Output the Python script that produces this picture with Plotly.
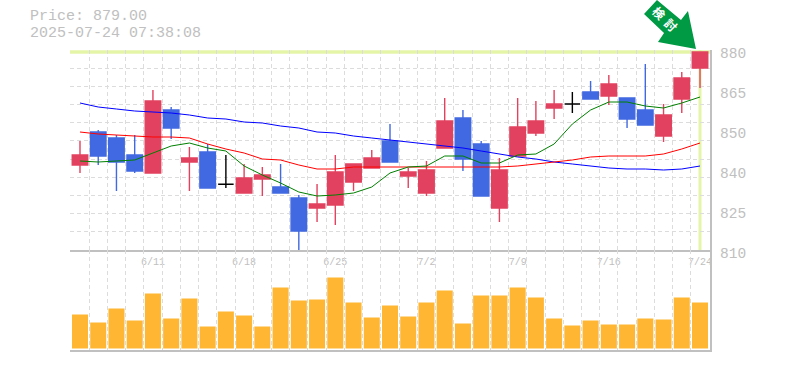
import plotly.graph_objects as go

W, H = 785, 370
MONO = "Liberation Mono, monospace"
GREY = "#c0c0c0"
GRID = "#dcdcdc"
RED = "#e2425f"
BLUE = "#4169e1"
BLACK = "#000000"
ORANGE = "#ffb733"
CROSS = "#e4f5a8"

title_price = "Price: 879.00"
title_time = "2025-07-24 07:38:08"

x_tick_vals = [4, 9, 14, 19, 24, 29, 34]
x_tick_text = ["6/11", "6/18", "6/25", "7/2", "7/9", "7/16", "7/24"]
y_tick_vals = [880, 866, 852, 838, 824, 810]
y_tick_text = ["880", "865", "850", "840", "825", "810"]

opens = [839.45, 851.0, 848.9, 842.95, 836.65, 858.7, 840.5, 844.0, 832.7, 829.65, 834.55, 831.75, 827.9, 824.4, 825.45, 833.5, 838.4, 847.85, 835.6, 829.65, 845.4, 855.9, 846.8, 824.4, 842.6, 850.65, 859.4, 860.8, 865.0, 863.6, 862.9, 858.7, 849.6, 862.55, 873.4]
highs = [847.85, 851.7, 849.95, 849.95, 865.7, 859.75, 845.75, 846.8, 842.95, 839.8, 838.75, 839.8, 828.95, 832.8, 842.95, 839.8, 844.7, 853.8, 838.4, 840.85, 862.9, 858.7, 847.85, 841.9, 862.9, 861.85, 865.7, 865.0, 868.85, 870.95, 862.9, 874.8, 860.8, 872.0, 879.0]
lows = [836.65, 839.45, 830.35, 836.65, 836.65, 848.55, 830.35, 831.4, 831.4, 829.65, 828.6, 829.65, 809.35, 819.5, 818.45, 830.35, 838.4, 840.5, 831.4, 828.6, 845.4, 837.35, 828.6, 819.5, 842.6, 849.6, 855.55, 857.65, 862.55, 860.45, 852.4, 853.45, 847.5, 857.65, 866.4]
closes = [842.95, 842.6, 840.5, 837.35, 861.85, 852.4, 841.9, 831.4, 832.7, 834.9, 835.95, 829.65, 816.35, 825.8, 837.0, 839.8, 841.9, 840.5, 837.0, 837.7, 854.85, 841.55, 828.6, 837.7, 852.75, 854.85, 860.8, 860.8, 862.55, 867.8, 855.55, 853.45, 856.95, 869.9, 879.0]

ma_short = [840.85, 840.5, 840.85, 841.2, 843.65, 846.1, 847.15, 845.4, 844.35, 839.1, 835.95, 833.15, 830.0, 828.6, 828.95, 829.65, 831.75, 836.65, 838.75, 839.1, 842.6, 842.6, 840.15, 840.15, 842.95, 843.3, 846.8, 853.8, 858.7, 861.5, 861.5, 860.1, 859.4, 861.15, 863.25]
ma_mid = [851.0, 850.3, 849.95, 849.6, 849.25, 849.25, 848.9, 846.8, 845.05, 843.65, 841.55, 841.2, 839.45, 838.05, 838.05, 838.75, 838.75, 838.75, 838.75, 838.75, 838.75, 838.75, 838.75, 838.75, 839.1, 839.8, 840.5, 841.2, 842.25, 842.6, 842.6, 842.6, 843.3, 845.05, 847.15]
ma_long = [861.15, 859.75, 859.05, 858.35, 858.0, 857.65, 856.95, 855.9, 855.55, 854.5, 854.15, 853.1, 852.4, 851.0, 850.65, 849.6, 848.9, 848.2, 847.5, 846.8, 846.1, 845.4, 844.35, 843.3, 842.25, 841.55, 840.5, 839.8, 839.1, 838.4, 838.05, 838.05, 837.7, 838.05, 839.1]

volumes = [34, 26, 40, 28, 55, 30, 50, 22, 37, 33, 22, 61, 48, 49, 71, 46, 31, 43, 32, 46, 58, 25, 53, 53, 61, 51, 30, 23, 28, 24, 24, 30, 29, 51, 46]

idx = list(range(len(closes)))
flat = [i for i in idx if opens[i] == closes[i]]
solid = [i for i in idx if opens[i] != closes[i]]


def pick(seq, which):
    return [seq[i] for i in which]


def px(x):
    return x / W


def py(y):
    return 1 - y / H


def cdl(which, up, down):
    return go.Candlestick(
        x=which, open=pick(opens, which), high=pick(highs, which),
        low=pick(lows, which), close=pick(closes, which), whiskerwidth=0,
        increasing=dict(line=dict(color=up, width=1.4), fillcolor=up),
        decreasing=dict(line=dict(color=down, width=1.4), fillcolor=down),
        hoverinfo="skip", showlegend=False, xaxis="x", yaxis="y",
    )


fig = go.Figure()
fig.add_trace(go.Bar(x=idx, y=volumes, width=0.88, marker=dict(color=ORANGE, line=dict(width=0)),
                     xaxis="x2", yaxis="y2", showlegend=False, hoverinfo="skip"))
fig.add_trace(go.Scatter(x=idx, y=ma_long, mode="lines", line=dict(color="#0000ff", width=1), showlegend=False, hoverinfo="skip"))
fig.add_trace(go.Scatter(x=idx, y=ma_mid, mode="lines", line=dict(color="#ff0000", width=1), showlegend=False, hoverinfo="skip"))
fig.add_trace(go.Scatter(x=idx, y=ma_short, mode="lines", line=dict(color="#008000", width=1), showlegend=False, hoverinfo="skip"))
fig.add_trace(cdl(solid, RED, BLUE))
fig.add_trace(cdl(flat, BLACK, BLACK))
fig.add_trace(go.Scatter(x=[idx[-1]], y=[closes[-1]], mode="lines", xaxis="x3", yaxis="y3", showlegend=False, hoverinfo="skip"))

grid_x = [i - 0.5 for i in idx] + [idx[-1] + 0.5]
minor = dict(tickmode="array", tickvals=grid_x, showgrid=True, gridcolor=GRID, griddash="4px,3px", gridwidth=1.2, ticks="")
x_range = [-0.548, 34.548]
dom_x = [px(70), px(710)]

fig.update_layout(
    width=W, height=H, margin=dict(l=0, r=0, t=0, b=0, autoexpand=False), autosize=False,
    paper_bgcolor="white", plot_bgcolor="rgba(0,0,0,0)", boxgap=0.15, boxgroupgap=0, showlegend=False,
    font=dict(family=MONO, color=GREY),
    xaxis=dict(domain=dom_x, range=x_range, anchor="y", tickmode="array", tickvals=x_tick_vals,
               ticktext=x_tick_text, showgrid=False, minor=minor, showline=True, linecolor=GREY,
               linewidth=2, ticks="", ticklabelstandoff=1, tickfont=dict(family=MONO, size=10, color=GREY),
               rangeslider=dict(visible=False), zeroline=False, tickangle=0),
    xaxis2=dict(domain=dom_x, range=x_range, anchor="y2", showticklabels=False, tickmode="array", tickvals=[],
                showgrid=False, minor=minor, showline=True, linecolor=GREY, linewidth=2, ticks="", zeroline=False),
    xaxis3=dict(domain=dom_x, range=x_range, anchor="y3", visible=False),
    yaxis=dict(domain=[py(250), py(50)], range=[809.7, 879.7], anchor="x", side="right", showline=True,
               linecolor=GREY, linewidth=2, showticklabels=False, ticks="", tick0=809.7, dtick=70 / 11,
               showgrid=True, gridcolor=GRID, griddash="4px,3px", gridwidth=1.2, zeroline=False),
    yaxis2=dict(domain=[py(350), py(250)], range=[-1.5, 98.5], anchor="x2", side="right", showline=True,
                linecolor=GREY, linewidth=2, showticklabels=False, ticks="", showgrid=False, zeroline=False),
    yaxis3=dict(domain=[py(263), py(43)], range=[806.5, 883.5], anchor="x3", side="right",
                tickmode="array", tickvals=y_tick_vals, ticktext=y_tick_text, showgrid=False, showline=False,
                ticks="", zeroline=False, ticklabelstandoff=9, tickfont=dict(family=MONO, size=14.5, color=GREY)),
)

# Latest-price crosshair
fig.add_shape(type="line", xref="x domain", x0=0, x1=1, yref="y", y0=closes[-1], y1=closes[-1],
              line=dict(color=CROSS, width=3.5), layer="below")
fig.add_shape(type="line", xref="x", x0=idx[-1], x1=idx[-1], yref="y domain", y0=0, y1=1,
              line=dict(color=CROSS, width=3), layer="below")

# Signal arrow
arrow = [(644, 14), (657, 0), (681, 20), (688, 11), (696, 49), (658, 42), (664, 33)]
path = "M " + " L ".join(f"{px(a):.4f},{py(b):.4f}" for a, b in arrow) + " Z"
fig.add_shape(type="path", xref="paper", yref="paper", path=path, fillcolor="#009944", line=dict(width=0), layer="above")

for txt, cx, cy in [("検", 659, 13), ("討", 671, 25)]:
    fig.add_annotation(text=txt, xref="paper", yref="paper", x=px(cx), y=py(cy), showarrow=False, textangle=45,
                       xanchor="center", yanchor="middle",
                       font=dict(family="Noto Sans CJK JP", size=12, color="white", weight="bold"))

for txt, cy in [(title_price, 17), (title_time, 34)]:
    fig.add_annotation(text=txt, xref="paper", yref="paper", x=px(29), y=py(cy), showarrow=False, borderpad=0,
                       xanchor="left", yanchor="middle", font=dict(family=MONO, size=15, color=GREY))

fig.write_html("out.html", config=dict(displayModeBar=False),
               post_script="document.body.style.margin='0';document.body.style.overflow='hidden';")
